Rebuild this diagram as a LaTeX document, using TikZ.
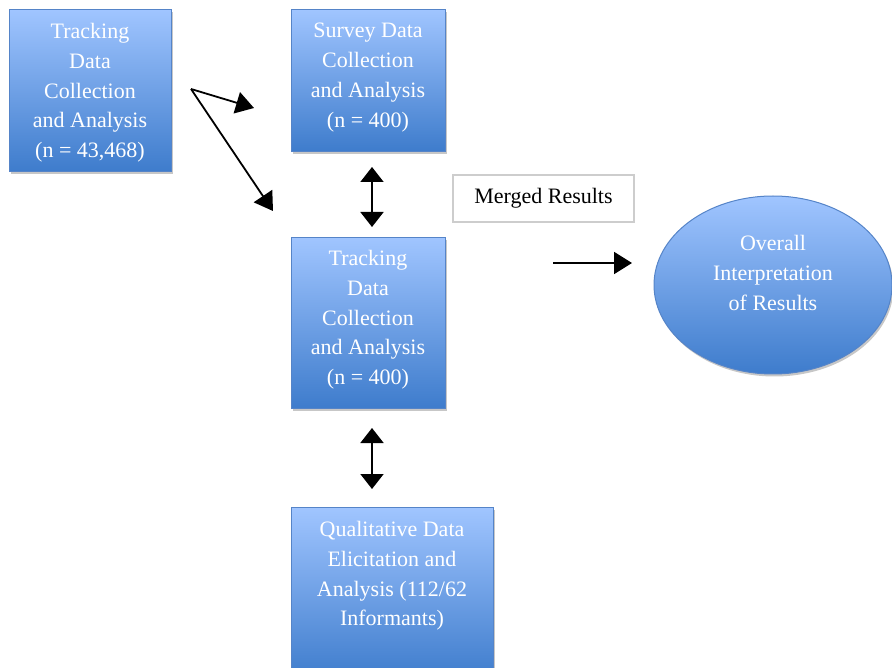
\documentclass[tikz,border=0pt]{standalone}
\usepackage{fontspec}
\setmainfont{Liberation Serif}
\usetikzlibrary{arrows.meta,shadows,shapes.geometric}
\definecolor{topblue}{RGB}{160,197,255}
\definecolor{botblue}{RGB}{62,124,204}
\definecolor{edgeblue}{RGB}{85,132,200}
\definecolor{graybox}{RGB}{205,205,205}
\begin{document}
\begin{tikzpicture}[x=1pt,y=-1pt,
  bluebox/.style={draw=edgeblue, line width=1pt, top color=topblue, bottom color=botblue,
    drop shadow={shadow xshift=1.5pt,shadow yshift=-2.5pt,opacity=0.22,fill=black}, inner sep=0pt},
  boxtext/.style={text=white, font=\fontsize{22}{29.8}\selectfont, align=center, inner sep=0pt, anchor=north},
  arr/.style={line width=1.8pt, -{Triangle[length=18pt,width=22pt]}},
  darr/.style={line width=1.8pt, {Triangle[length=15pt,width=23pt]}-{Triangle[length=15pt,width=23pt]}}
]
\useasboundingbox (0,0) rectangle (892,668);
\clip (0,0) rectangle (892,668);

% boxes
\node[bluebox, rectangle, minimum width=162pt, minimum height=162pt, anchor=north west] (trackA) at (9,9) {};
\node[boxtext] (trackAtext) at (90,23) {Tracking\\Data\\Collection\\and Analysis\\(n = 43,468)};

\node[bluebox, rectangle, minimum width=154pt, minimum height=142pt, anchor=north west] (survey) at (291,9) {};
\node[boxtext] (surveytext) at (368,23) {Survey Data\\Collection\\and Analysis\\(n = 400)};

\node[bluebox, rectangle, minimum width=154pt, minimum height=171pt, anchor=north west] (trackC) at (291,237) {};
\node[boxtext] (trackCtext) at (368,250) {Tracking\\Data\\Collection\\and Analysis\\(n = 400)};

\node[bluebox, rectangle, minimum width=202pt, minimum height=172pt, anchor=north west] (qual) at (291,507) {};
\node[boxtext] (qualtext) at (392,521) {Qualitative Data\\Elicitation and\\Analysis (112/62\\Informants)};

\node[draw=graybox, line width=1.2pt, fill=white, minimum width=181pt, minimum height=47pt,
  font=\fontsize{22}{26}\selectfont] (merged) at (543.5,198.5) {Merged Results};

\node[bluebox, ellipse, minimum width=238pt, minimum height=178pt] (overall) at (773,285) {};
\node[boxtext] (overalltext) at (773,235) {Overall\\Interpretation\\of Results};

% connectors
\coordinate (fork) at (191,89);
\coordinate (tipB) at (254,108);
\coordinate (tipC) at (273,211);
\draw[arr] (fork) -- (tipB);
\draw[arr] (fork) -- (tipC);

\coordinate (dOneTop) at (372,167);
\coordinate (dOneBot) at (372,227);
\draw[darr] (dOneTop) -- (dOneBot);

\coordinate (dTwoTop) at (372,428);
\coordinate (dTwoBot) at (372,489);
\draw[darr] (dTwoTop) -- (dTwoBot);

\coordinate (hStart) at (553,263);
\coordinate (hTip) at (632,263);
\draw[arr] (hStart) -- (hTip);
\end{tikzpicture}
\end{document}
